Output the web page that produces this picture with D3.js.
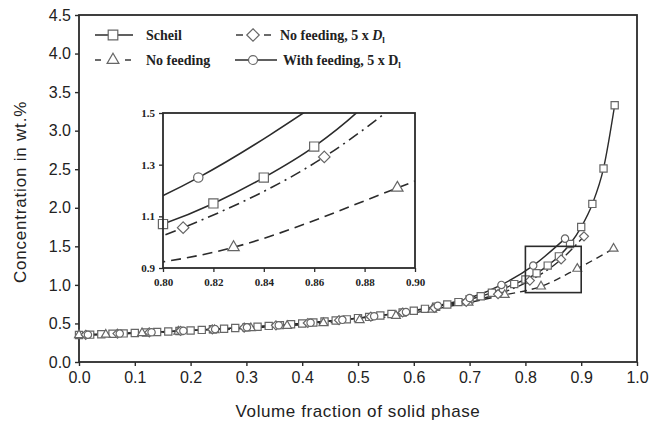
<!DOCTYPE html>
<html><head><meta charset="utf-8">
<script src="https://cdn.jsdelivr.net/npm/d3@7"></script>
<style>body{margin:0;background:#fff}svg{display:block}</style>
</head><body><svg id="c" width="661" height="427"></svg>
<script>
// ---- data ----
const xTicks = [0.0,0.1,0.2,0.3,0.4,0.5,0.6,0.7,0.8,0.9,1.0];
const yTicks = [0.0,0.5,1.0,1.5,2.0,2.5,3.0,3.5,4.0,4.5];
const insetXTicks = [0.80,0.82,0.84,0.86,0.88,0.90];
const insetYTicks = [0.9,1.1,1.3,1.5];
const insetBox = [0.8,0.9,0.9,1.5]; // x0,x1,y0,y1

const scheilX = [0,0.02,0.04,0.06,0.08,0.10,0.12,0.14,0.16,0.18,0.20,0.22,0.24,0.26,0.28,0.30,0.32,0.34,0.36,0.38,0.40,0.42,0.44,0.46,0.48,0.50,0.52,0.54,0.56,0.58,0.60,0.62,0.64,0.66,0.68,0.70,0.72,0.74,0.76,0.78,0.80,0.82,0.84,0.86,0.88,0.90,0.92,0.94,0.96];
const scheilY = [0.350,0.355,0.360,0.366,0.371,0.377,0.383,0.389,0.395,0.402,0.409,0.416,0.424,0.432,0.441,0.449,0.458,0.468,0.478,0.489,0.500,0.512,0.525,0.539,0.553,0.569,0.585,0.603,0.622,0.642,0.665,0.689,0.716,0.745,0.777,0.813,0.853,0.899,0.950,1.010,1.070,1.150,1.250,1.370,1.530,1.750,2.050,2.510,3.330];

const noFeedX = [0,0.048,0.113,0.178,0.243,0.308,0.373,0.438,0.503,0.568,0.633,0.698,0.763,0.828,0.893,0.958];
const noFeedY = [0.350,0.355,0.375,0.395,0.415,0.440,0.470,0.505,0.545,0.600,0.680,0.770,0.870,0.980,1.210,1.470];

const noFeed5X = [0.012,0.069,0.126,0.182,0.239,0.296,0.353,0.410,0.466,0.523,0.580,0.637,0.694,0.751,0.808,0.864,0.905];
const noFeed5Y = [0.353,0.368,0.385,0.403,0.424,0.447,0.475,0.506,0.543,0.588,0.642,0.700,0.780,0.880,1.056,1.330,1.630];

const withFeedX = [0.016,0.073,0.130,0.187,0.244,0.301,0.358,0.415,0.472,0.529,0.586,0.643,0.700,0.757,0.814,0.871];
const withFeedY = [0.354,0.369,0.386,0.405,0.426,0.450,0.477,0.509,0.547,0.593,0.649,0.730,0.830,1.000,1.250,1.600];

const seriesNames = ["Scheil","No feeding","No feeding, 5 x D","With feeding, 5 x D"];

// ---- setup ----
const svg = d3.select("#c");
const C = "#2b2b2b";
const MK = "#666";
const x = d3.scaleLinear([0,1],[79,637]);
const y = d3.scaleLinear([0,4.5],[362,15]);
const ix = d3.scaleLinear([0.8,0.9],[163,415]);
const iy = d3.scaleLinear([0.9,1.5],[268,113]);

const series = [
  {name:seriesNames[0], xs:scheilX, ys:scheilY, dash:null, mk:"square"},
  {name:seriesNames[1], xs:noFeedX, ys:noFeedY, dash:"7,5", mk:"triangle"},
  {name:seriesNames[2], xs:noFeed5X, ys:noFeed5Y, dash:"9,4,2,4", mk:"diamond"},
  {name:seriesNames[3], xs:withFeedX, ys:withFeedY, dash:null, mk:"circle"}
];

function markerPath(type, s){
  if(type==="square") return d3.symbol(d3.symbolSquare, 64*s*s)();
  if(type==="triangle") return d3.symbol(d3.symbolTriangle, 42*s*s)();
  if(type==="circle") return d3.symbol(d3.symbolCircle, 52*s*s)();
  const r = 5*s;
  return `M0,${-r}L${r},0L0,${r}L${-r},0Z`;
}
function drawMarker(g, type, cx, cy, s){
  g.append("path").attr("d", markerPath(type, s))
    .attr("transform", `translate(${cx},${cy})`)
    .attr("fill","#fff").attr("stroke",MK).attr("stroke-width",1.2);
}

const sans = "Arial, 'Liberation Sans', sans-serif";
const serif = "'Times New Roman', 'Liberation Serif', serif";

// ---- main axes ----
const gy = svg.append("g").attr("transform","translate(79,0)")
  .call(d3.axisLeft(y).tickValues(yTicks).tickFormat(d3.format(".1f")).tickSize(4).tickPadding(4));
const gx = svg.append("g").attr("transform","translate(0,362)")
  .call(d3.axisBottom(x).tickValues(xTicks).tickFormat(d3.format(".1f")).tickSize(4).tickPadding(6));
[gx,gy].forEach(g=>{
  g.select(".domain").remove();
  g.selectAll("line").attr("stroke",C).attr("stroke-width",1.4);
  g.selectAll("text").attr("font-family",sans).attr("font-size",16).attr("fill","#222");
});
svg.append("rect").attr("x",79).attr("y",15).attr("width",558).attr("height",347)
  .attr("fill","none").attr("stroke",C).attr("stroke-width",1.8);

svg.append("text").attr("x",358).attr("y",417).attr("text-anchor","middle")
  .attr("font-family",sans).attr("font-size",17).attr("letter-spacing",0.6).attr("fill","#222")
  .text("Volume fraction of solid phase");
svg.append("text").attr("transform","translate(26,192) rotate(-90)").attr("text-anchor","middle")
  .attr("font-family",sans).attr("font-size",17).attr("letter-spacing",0.8).attr("fill","#222")
  .text("Concentration in wt.%");

// ---- main curves ----
const gMain = svg.append("g");
series.forEach(s=>{
  const pts = s.xs.map((v,i)=>[v,s.ys[i]]);
  const line = d3.line().x(d=>x(d[0])).y(d=>y(d[1])).curve(d3.curveMonotoneX);
  gMain.append("path").attr("d",line(pts)).attr("fill","none").attr("stroke",C)
    .attr("stroke-width",1.4).attr("stroke-dasharray",s.dash);
});
series.forEach(s=>{
  s.xs.forEach((v,i)=>drawMarker(gMain, s.mk, x(v), y(s.ys[i]), 0.9));
});

// zoom rectangle
svg.append("rect").attr("x",x(insetBox[0])).attr("y",y(insetBox[3]))
  .attr("width",x(insetBox[1])-x(insetBox[0])).attr("height",y(insetBox[2])-y(insetBox[3]))
  .attr("fill","none").attr("stroke",C).attr("stroke-width",1.6);

// ---- legend ----
const lg = svg.append("g").attr("font-family",serif).attr("font-weight","bold").attr("font-size",14).attr("fill","#222");
function legLine(x1,x2,yy){
  lg.append("line").attr("x1",x1).attr("x2",x2).attr("y1",yy).attr("y2",yy)
    .attr("stroke",C).attr("stroke-width",1.4);
}
legLine(95,133,35); drawMarker(lg,"square",113,35,1.2);
lg.append("text").attr("x",146).attr("y",40).text(seriesNames[0]);
legLine(95,101,60); legLine(125,131,60); drawMarker(lg,"triangle",113,60,1.2);
lg.append("text").attr("x",146).attr("y",65).text(seriesNames[1]);
legLine(236,243,35); legLine(264,271,35); drawMarker(lg,"diamond",253,35,1.25);
const t1 = lg.append("text").attr("x",280).attr("y",40);
t1.append("tspan").text("No feeding, 5 x ");
t1.append("tspan").attr("font-style","italic").text("D");
t1.append("tspan").attr("font-size",9).attr("dy",3).text("l");
legLine(235,277,60); drawMarker(lg,"circle",253,60,1.1);
const t2 = lg.append("text").attr("x",283).attr("y",65);
t2.append("tspan").text("With feeding, 5 x D");
t2.append("tspan").attr("font-size",9).attr("dy",3).text("l");

// ---- inset ----
const ins = svg.append("g");
ins.append("rect").attr("x",163).attr("y",113).attr("width",252).attr("height",155).attr("fill","#fff");
svg.append("defs").append("clipPath").attr("id","ic").append("rect")
  .attr("x",163).attr("y",113).attr("width",252).attr("height",155);
const gi = ins.append("g").attr("clip-path","url(#ic)");
series.forEach(s=>{
  const pts = s.xs.map((v,i)=>[v,s.ys[i]]);
  const line = d3.line().x(d=>ix(d[0])).y(d=>iy(d[1])).curve(d3.curveMonotoneX);
  gi.append("path").attr("d",line(pts)).attr("fill","none").attr("stroke",C)
    .attr("stroke-width",1.6).attr("stroke-dasharray",s.dash ? (s.mk==="diamond"?"11,5,2,5":"10,6") : null);
});
series.forEach(s=>{
  s.xs.forEach((v,i)=>{
    if(v>=insetBox[0]-0.001 && v<=insetBox[1] && s.ys[i]>=insetBox[2] && s.ys[i]<=insetBox[3])
      drawMarker(ins, s.mk, ix(v), iy(s.ys[i]), 1.15);
  });
});
const giy = ins.append("g").attr("transform","translate(163,0)")
  .call(d3.axisLeft(iy).tickValues(insetYTicks).tickFormat(d3.format(".1f")).tickSize(4).tickPadding(4));
const gix = ins.append("g").attr("transform","translate(0,268)")
  .call(d3.axisBottom(ix).tickValues(insetXTicks).tickFormat(d3.format(".2f")).tickSize(4).tickPadding(6));
[gix,giy].forEach(g=>{
  g.select(".domain").remove();
  g.selectAll("line").attr("stroke",C).attr("stroke-width",1.3);
  g.selectAll("text").attr("font-family",serif).attr("font-weight","bold").attr("font-size",11).attr("fill","#222");
});
ins.append("rect").attr("x",163).attr("y",113).attr("width",252).attr("height",155)
  .attr("fill","none").attr("stroke",C).attr("stroke-width",1.8);
</script>
</body></html>
